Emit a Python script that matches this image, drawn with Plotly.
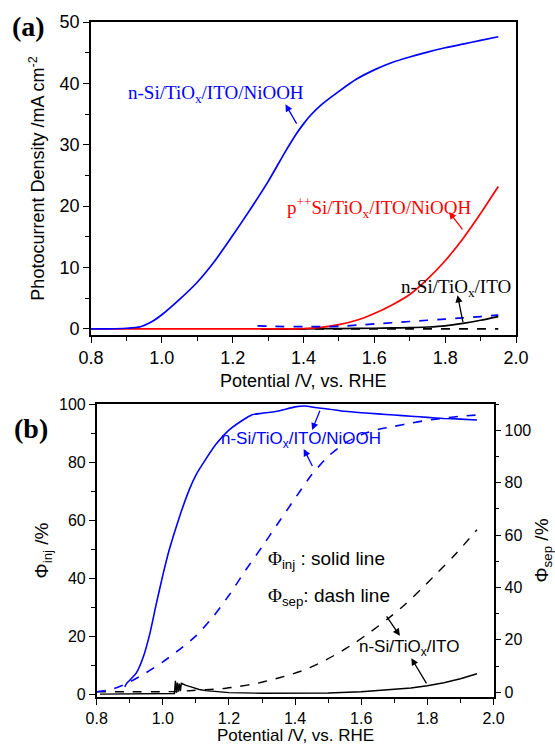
import plotly.graph_objects as go

# ---------------- Panel (a): photocurrent density ----------------
a_nsi_niooh_V = [0.80, 0.85, 0.90, 0.94, 0.97, 1.00, 1.05, 1.10, 1.15, 1.20, 1.25, 1.30, 1.35,
                 1.38, 1.40, 1.42, 1.45, 1.50, 1.55, 1.60, 1.65, 1.70, 1.75, 1.80, 1.85, 1.90, 1.95]
a_nsi_niooh_J = [0.0, 0.0, 0.1, 0.35, 1.1, 2.3, 4.8, 7.6, 11.1, 15.2, 19.5, 24.0, 29.0,
                 31.8, 33.4, 34.8, 36.5, 38.7, 40.7, 42.2, 43.4, 44.3, 45.1, 45.8, 46.4, 47.0, 47.6]

a_dark_niooh_V = [1.27, 1.32, 1.40, 1.50, 1.55, 1.60, 1.65, 1.70, 1.75, 1.80, 1.85, 1.90, 1.95]
a_dark_niooh_J = [0.5, 0.4, 0.35, 0.4, 0.6, 0.8, 1.0, 1.2, 1.4, 1.6, 1.8, 2.0, 2.25]

a_p_niooh_V = [0.80, 0.90, 1.00, 1.10, 1.20, 1.30, 1.40, 1.45, 1.50, 1.55, 1.60, 1.65, 1.70,
               1.75, 1.80, 1.85, 1.90, 1.95]
a_p_niooh_J = [0.0, 0.0, 0.0, 0.0, 0.0, 0.0, 0.05, 0.25, 0.7, 1.4, 2.5, 3.9, 5.6,
               8.1, 11.1, 14.7, 18.8, 23.2]

a_nsi_ito_V = [1.28, 1.40, 1.50, 1.60, 1.65, 1.70, 1.75, 1.80, 1.85, 1.90, 1.95]
a_nsi_ito_J = [0.0, 0.0, 0.05, 0.1, 0.15, 0.2, 0.3, 0.5, 0.9, 1.4, 2.0]

a_dark_ito_V = [1.28, 1.40, 1.50, 1.60, 1.70, 1.80, 1.90, 1.95]
a_dark_ito_J = [0.0, 0.0, 0.0, 0.0, 0.0, 0.0, 0.0, 0.0]

# ---------------- Panel (b): injection / separation efficiencies ----------------
b_inj_niooh_V = [0.885, 0.89, 0.90, 0.92, 0.94, 0.96, 0.98, 1.00, 1.02, 1.05, 1.08, 1.10, 1.13,
                 1.16, 1.20, 1.24, 1.27, 1.30, 1.35, 1.40, 1.43, 1.46, 1.50, 1.55, 1.60, 1.65,
                 1.70, 1.75, 1.80, 1.85, 1.90, 1.95]
b_inj_niooh_P = [2.5, 3.6, 4.8, 7.3, 12.5, 20.5, 31.0, 41.0, 50.0, 61.0, 70.5, 75.5, 81.0,
                 86.0, 91.0, 94.3, 96.3, 96.8, 97.6, 99.0, 99.3, 98.8, 98.3, 97.5, 97.0, 96.6,
                 96.2, 95.8, 95.4, 95.0, 94.8, 94.5]

b_sep_niooh_V = [0.80, 0.84, 0.89, 0.95, 1.00, 1.05, 1.10, 1.15, 1.20, 1.25, 1.30, 1.35, 1.40,
                 1.45, 1.50, 1.55, 1.60, 1.65, 1.70, 1.75, 1.80, 1.85, 1.90, 1.95]
b_sep_niooh_P = [0.2, 0.9, 3.3, 7.5, 11.6, 16.3, 21.5, 28.5, 37.0, 46.5, 55.5, 64.8, 74.0,
                 83.0, 90.0, 95.0, 98.3, 100.3, 101.5, 102.7, 103.8, 104.6, 105.3, 105.8]

b_inj_ito_V = [0.81, 0.90, 1.00, 1.035, 1.038, 1.041, 1.044, 1.047, 1.050, 1.053, 1.056,
               1.07, 1.09, 1.11, 1.13, 1.16, 1.20, 1.30, 1.40, 1.50, 1.60, 1.70, 1.75,
               1.80, 1.85, 1.90, 1.95]
b_inj_ito_P = [0.0, 0.0, 0.0, 0.2, 4.6, 0.5, 4.0, 0.8, 3.6, 1.0, 3.7, 3.0, 2.3, 1.6, 1.2,
               0.8, 0.5, 0.3, 0.3, 0.4, 0.8, 1.5, 2.1, 2.9, 3.9, 5.3, 7.0]

b_sep_ito_V = [0.80, 0.90, 1.00, 1.04, 1.08, 1.13, 1.18, 1.23, 1.28, 1.33, 1.38, 1.43, 1.48,
               1.53, 1.58, 1.63, 1.68, 1.73, 1.78, 1.83, 1.88, 1.95]
b_sep_ito_P = [0.2, 0.2, 0.2, 0.3, 0.6, 1.0, 1.4, 2.2, 3.3, 4.8, 6.5, 8.6, 11.5, 14.9, 18.8,
               23.2, 28.0, 33.2, 39.2, 45.6, 52.0, 62.0]

x_ticks = [0.8, 1.0, 1.2, 1.4, 1.6, 1.8, 2.0]

BLUE = "#0000ff"
RED = "#ff0000"
BLACK = "#000000"
SANS = "Liberation Sans, Arial, sans-serif"
SERIF = "Liberation Serif, Times New Roman, serif"

fig = go.Figure()

def line(xs, ys, color, dash="solid", xa="x", ya="y", width=1.7, shape="spline"):
    fig.add_trace(go.Scatter(x=xs, y=ys, mode="lines", xaxis=xa, yaxis=ya,
                             line=dict(color=color, width=width, dash=dash, shape=shape, smoothing=0.6),
                             showlegend=False, hoverinfo="skip"))

# panel a
line(a_dark_ito_V, a_dark_ito_J, BLACK, "dash", shape="linear")
line(a_nsi_ito_V, a_nsi_ito_J, BLACK)
line(a_p_niooh_V, a_p_niooh_J, RED)
line(a_dark_niooh_V, a_dark_niooh_J, BLUE, "dash")
line(a_nsi_niooh_V, a_nsi_niooh_J, BLUE)

# panel b
line(b_sep_ito_V, b_sep_ito_P, BLACK, "dash", "x2", "y3", 1.4)
line(b_inj_ito_V, b_inj_ito_P, BLACK, "solid", "x2", "y2", 1.4, shape="linear")
line(b_sep_niooh_V, b_sep_niooh_P, BLUE, "dash", "x2", "y3", 1.6)
line(b_inj_niooh_V, b_inj_niooh_P, BLUE, "solid", "x2", "y2", 1.6)

W, H = 555, 744

def xaxis_style(domain, anchor, tick_size):
    return dict(domain=domain, anchor=anchor, range=[0.8, 2.0], tickvals=x_ticks,
                ticktext=[f"{v:.1f}" for v in x_ticks], automargin=False,
                ticks="outside", ticklen=6, tickwidth=1.3, tickcolor=BLACK,
                minor=dict(dtick=0.1, tick0=0.8, ticks="outside", ticklen=4, tickwidth=1.2, tickcolor=BLACK),
                showline=True, linecolor=BLACK, linewidth=1.6, mirror=True,
                showgrid=False, zeroline=False,
                tickfont=dict(family=SANS, size=tick_size, color=BLACK))

def yaxis_style(domain, anchor, rng, title, tick_size, title_size, mirror=True, side="left"):
    return dict(domain=domain, anchor=anchor, range=rng, dtick=20 if rng[1] > 60 else 10, tick0=0,
                automargin=False,
                ticks="outside", ticklen=6, tickwidth=1.3, tickcolor=BLACK,
                minor=dict(dtick=10 if rng[1] > 60 else 5, tick0=0, ticks="outside", ticklen=4, tickwidth=1.2, tickcolor=BLACK),
                showline=True, linecolor=BLACK, linewidth=1.6, mirror=mirror, side=side,
                showgrid=False, zeroline=False,
                tickfont=dict(family=SANS, size=tick_size, color=BLACK),
                title=dict(text=title, font=dict(family=SANS, size=title_size, color=BLACK)))

ya3 = yaxis_style(None, "x2", [-1.8, 110], "Φ<sub>sep</sub> /%", 16, 19, mirror=False, side="right")
ya3.pop("domain")
ya3["overlaying"] = "y2"

fig.update_layout(
    template="none",
    width=W, height=H, margin=dict(l=0, r=0, t=0, b=0, pad=0),
    paper_bgcolor="white", plot_bgcolor="white", showlegend=False,
    xaxis=xaxis_style([91 / W, 516 / W], "y", 18),
    yaxis=yaxis_style([1 - 335 / H, 1 - 22 / H], "x", [-1, 50], "Photocurrent Density /mA cm<sup>-2</sup>", 18, 18),
    xaxis2=xaxis_style([96.7 / W, 493.5 / W], "y2", 16),
    yaxis2=yaxis_style([1 - 697 / H, 1 - 404 / H], "x2", [-1, 100], "Φ<sub>inj</sub> /%", 16, 19, mirror=False),
    yaxis3=ya3,
)

# x titles, placed as paper text so they sit where the reference has them
for cx, cy, size in [(303, 381, 18), (295, 735, 17)]:
    fig.add_annotation(x=cx / W, y=1 - cy / H, xref="paper", yref="paper", text="Potential /V, vs. RHE",
                       xanchor="center", yanchor="middle", showarrow=False,
                       font=dict(family=SANS, size=size, color=BLACK))

# text labels
labels = [
    # panel (a)
    dict(x=1.153, y=38.3, xref="x", yref="y", text="n-Si/TiO<sub>x</sub>/ITO/NiOOH", color=BLUE, family=SERIF, size=19),
    dict(x=1.615, y=19.8, xref="x", yref="y", text="p<sup>++</sup>Si/TiO<sub>x</sub>/ITO/NiOOH", color=RED, family=SERIF, size=19),
    dict(x=1.83, y=6.6, xref="x", yref="y", text="n-Si/TiO<sub>x</sub>/ITO", color=BLACK, family=SERIF, size=19),
    # panel (b)
    dict(x=1.4185, y=87.6, xref="x2", yref="y2", text="n-Si/TiO<sub>x</sub>/ITO/NiOOH", color=BLUE, family=SANS, size=17),
    dict(x=1.743, y=16.0, xref="x2", yref="y2", text="n-Si/TiO<sub>x</sub>/ITO", color=BLACK, family=SANS, size=17),
]
for lb in labels:
    fig.add_annotation(x=lb["x"], y=lb["y"], xref=lb["xref"], yref=lb["yref"], text=lb["text"],
                       xanchor="center", yanchor="middle",
                       showarrow=False, font=dict(family=lb["family"], size=lb["size"], color=lb["color"]))

phi_labels = [
    dict(x=1.313, y=46.2, text="<span style='font-family:Liberation Serif'>Φ</span><sub>inj</sub> : solid line"),
    dict(x=1.313, y=33.5, text="<span style='font-family:Liberation Serif'>Φ</span><sub>sep</sub>: dash line"),
]
for lb in phi_labels:
    fig.add_annotation(x=lb["x"], y=lb["y"], xref="x2", yref="y2", text=lb["text"], xanchor="left",
                       yanchor="middle",
                       showarrow=False, font=dict(family=SANS, size=19, color=BLACK))

# arrows: head (x, y) -> tail (ax, ay)
arrows = [
    dict(x=1.349, y=36.6, ax=1.383, ay=33.2, xref="x", yref="y", color=BLUE),
    dict(x=1.811, y=19.05, ax=1.852, ay=15.95, xref="x", yref="y", color=RED),
    dict(x=1.835, y=5.47, ax=1.851, ay=0.85, xref="x", yref="y", color=BLACK),
    dict(x=1.4515, y=91.0, ax=1.4767, ay=98.2, xref="x2", yref="y2", color=BLUE),
    dict(x=1.426, y=84.5, ax=1.4545, ay=78.1, xref="x2", yref="y2", color=BLUE),
    dict(x=1.717, y=20.1, ax=1.6736, ay=27.3, xref="x2", yref="y2", color=BLACK),
    dict(x=1.7515, y=12.4, ax=1.800, ay=3.2, xref="x2", yref="y2", color=BLACK),
]
for ar in arrows:
    fig.add_annotation(x=ar["x"], y=ar["y"], ax=ar["ax"], ay=ar["ay"], xref=ar["xref"], yref=ar["yref"],
                       axref=ar["xref"], ayref=ar["yref"], text="", showarrow=True,
                       arrowhead=2, arrowsize=1.1, arrowwidth=1.3, arrowcolor=ar["color"])

# panel labels
for txt, px, py in [("(a)", 28, 27), ("(b)", 31, 428)]:
    fig.add_annotation(x=px / W, y=1 - py / H, xref="paper", yref="paper", text=f"<b>{txt}</b>",
                       xanchor="center", yanchor="middle",
                       showarrow=False, font=dict(family=SERIF, size=28, color=BLACK))

fig.write_html("out.html")
